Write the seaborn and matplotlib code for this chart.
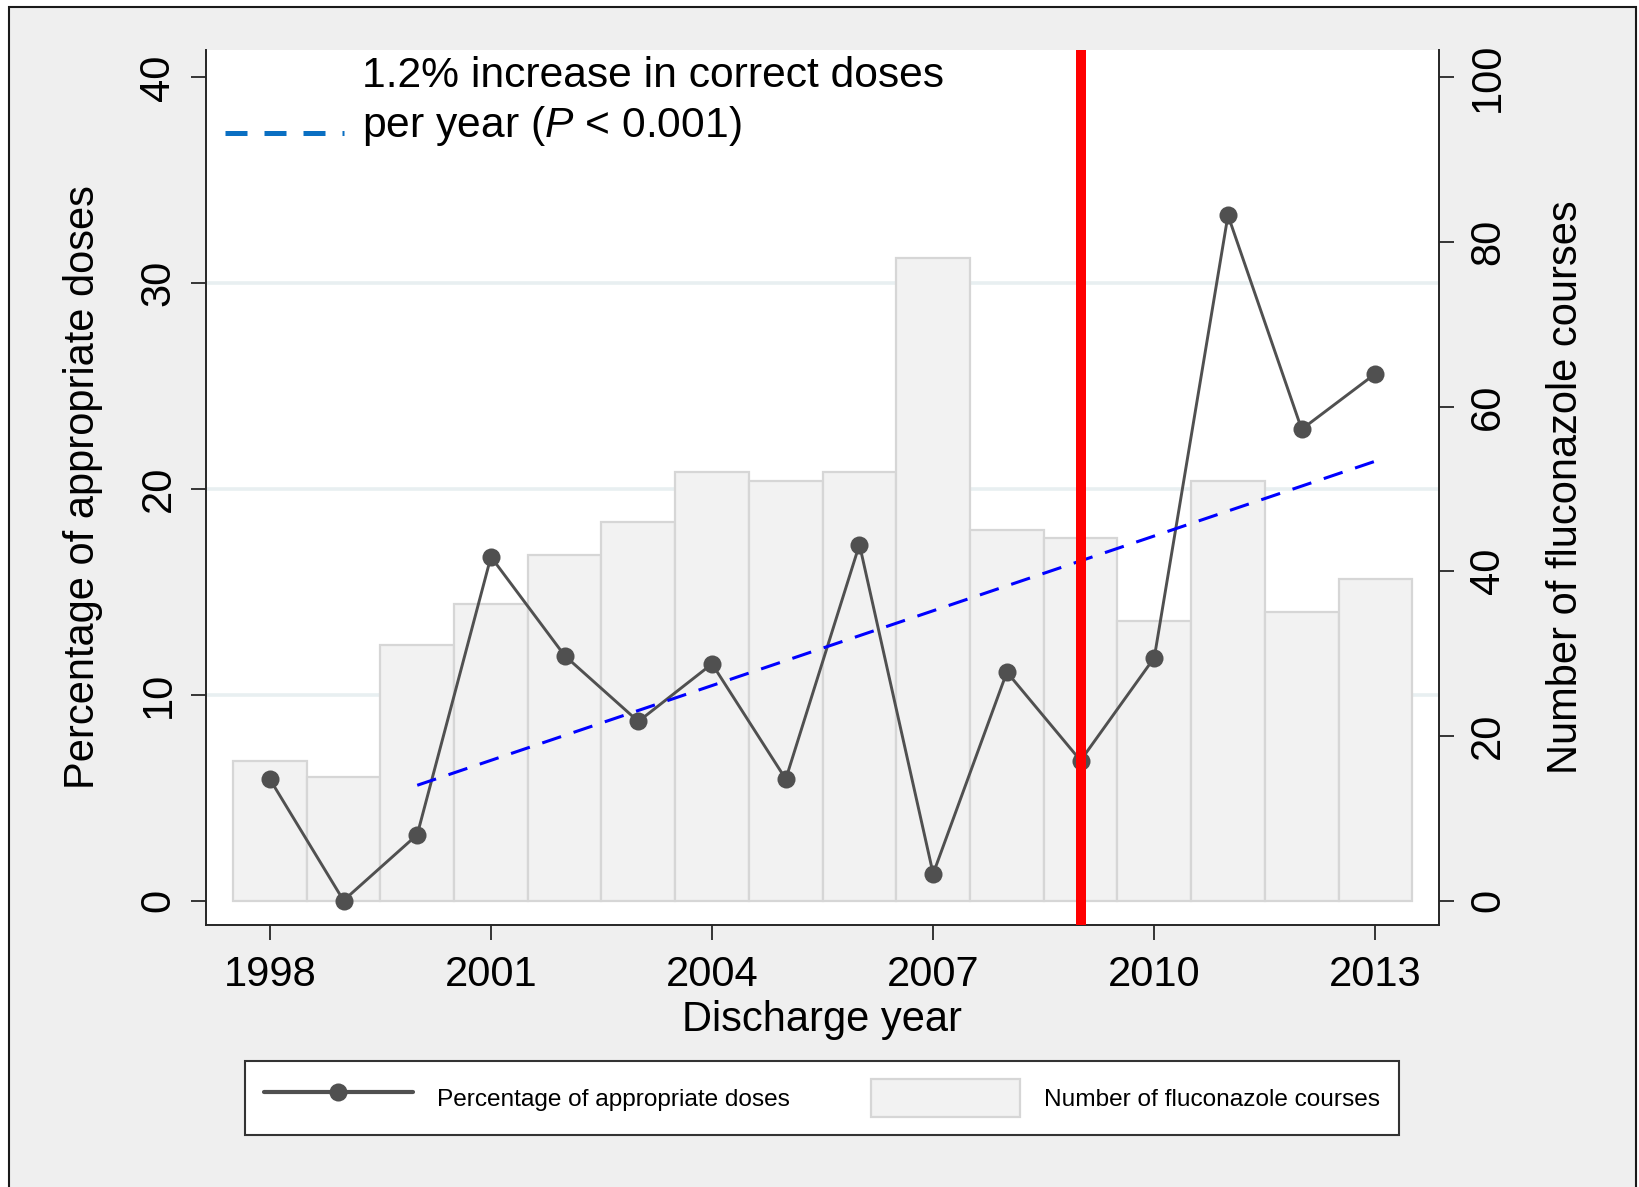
import matplotlib
matplotlib.use("Agg")
import matplotlib.pyplot as plt
from matplotlib.lines import Line2D
from matplotlib.patches import Patch, Rectangle
from matplotlib.ticker import FixedLocator
import pandas as pd
import seaborn as sns

# ---- data -------------------------------------------------------------
years = [1998, 1999, 2000, 2001, 2002, 2003, 2004, 2005,
         2006, 2007, 2008, 2009, 2010, 2011, 2012, 2013]
courses = [17, 15, 31, 36, 42, 46, 52, 51, 52, 78, 45, 44, 34, 51, 35, 39]
pct_appropriate = [5.9, 0.0, 3.2, 16.7, 11.9, 8.7, 11.5, 5.9,
                   17.3, 1.3, 11.1, 6.8, 11.8, 33.3, 22.9, 25.6]
trend_years = [2000, 2013]
trend_pct = [5.6, 21.35]
guideline_year = 2009

x_ticks = [1998, 2001, 2004, 2007, 2010, 2013]
pct_ticks = [0, 10, 20, 30, 40]
count_ticks = [0, 20, 40, 60, 80, 100]

trend_text = ["1.2% increase in correct doses",
              r"per year ($\mathit{P}$ < 0.001)"]
x_label = "Discharge year"
pct_label = "Percentage of appropriate doses"
count_label = "Number of fluconazole courses"

# ---- style ------------------------------------------------------------
sns.set_style("white")
plt.rcParams["font.family"] = ["Liberation Sans", "DejaVu Sans"]
plt.rcParams["mathtext.fontset"] = "custom"
plt.rcParams["mathtext.rm"] = "Liberation Sans"
plt.rcParams["mathtext.it"] = "Liberation Sans:italic"
for key in ("text.color", "axes.labelcolor", "xtick.color", "ytick.color"):
    plt.rcParams[key] = "black"

W, H = 1640, 1187
BIG = 30
NOTE = 30.7
SMALL = 17.6
INK = "#262626"
LINE_GREY = "#505050"
BAR_FILL = "#f2f2f2"
BAR_EDGE = "#d6d6d6"

fig = plt.figure(figsize=(W / 100, H / 100), dpi=100, facecolor="white")
fig.add_artist(Rectangle((9 / W, -0.02), (1636 - 9) / W, 1 - 7 / H + 0.02,
                         transform=fig.transFigure, facecolor="#efefef",
                         edgecolor="#1a1a1a", linewidth=1.5, zorder=-5))

left, right, top, bottom = 206, 1439, 50, 925
ax = fig.add_axes([left / W, (H - bottom) / H, (right - left) / W, (bottom - top) / H])
ax2 = ax.twinx()

pct_lim = (-1.19, 41.33)
scale = count_ticks[-1] / pct_ticks[-1]
ax.set_xlim(1997.134, 2013.863)
ax.set_ylim(*pct_lim)
ax2.set_ylim(pct_lim[0] * scale, pct_lim[1] * scale)

df = pd.DataFrame({"year": years, "courses": courses, "pct": pct_appropriate})

# bars: number of courses (right axis)
sns.barplot(data=df, x="year", y="courses", native_scale=True, width=1.0,
            color=BAR_FILL, saturation=1, edgecolor=BAR_EDGE, linewidth=1.6,
            errorbar=None, ax=ax2, zorder=2)

# percentage of appropriate doses (left axis)
sns.lineplot(data=df, x="year", y="pct", ax=ax, color=LINE_GREY, linewidth=2.1,
             marker="o", markersize=13, markeredgewidth=0, zorder=3)

# linear trend
ax.plot(trend_years, trend_pct, color="#0000ff", linewidth=2.2,
        linestyle=(0, (6.5, 4.3)), dash_capstyle="butt", zorder=4)

# guideline change
ax.axvline(guideline_year, color="#ff0000", linewidth=7.2, zorder=5)

# layering: bars + grid underneath, lines on top
ax.set_zorder(ax2.get_zorder() + 1)
ax.patch.set_visible(False)
ax2.patch.set_visible(True)
ax2.patch.set_facecolor("white")

# grid at the percentage ticks, drawn behind the bars
ax2.yaxis.set_minor_locator(FixedLocator([t * scale for t in pct_ticks[:-1]]))
ax2.set_axisbelow(True)
ax2.grid(which="minor", axis="y", color="#e8eff1", linewidth=2.6)
ax2.grid(which="major", visible=False)
ax.grid(False)

# ticks
ax.set_xticks(x_ticks)
ax.set_xticklabels([str(t) for t in x_ticks], fontsize=BIG)
ax.set_yticks(pct_ticks)
ax.set_yticklabels([str(t) for t in pct_ticks], fontsize=BIG, rotation=90, va="center")
ax2.set_yticks(count_ticks)
ax2.set_yticklabels([str(t) for t in count_ticks], fontsize=BIG, rotation=90, va="center")
ax.tick_params(axis="x", direction="out", length=10.8, width=1.3, color=INK, pad=11, bottom=True)
ax.tick_params(axis="y", direction="out", length=10.8, width=1.3, color=INK, pad=9, left=True)
ax2.tick_params(axis="y", which="major", direction="out", length=10.8, width=1.3, color=INK, pad=10, right=True)
ax2.tick_params(axis="y", which="minor", length=0)

for name, sp in ax.spines.items():
    sp.set_visible(name in ("left", "bottom"))
    sp.set_color(INK)
    sp.set_linewidth(1.4)
for name, sp in ax2.spines.items():
    sp.set_visible(name == "right")
    sp.set_color(INK)
    sp.set_linewidth(1.4)

# axis titles
ax.set_xlabel(x_label, fontsize=BIG)
ax.xaxis.set_label_coords(0.5, -0.0857)
ax.set_ylabel(pct_label, fontsize=BIG)
ax.yaxis.set_label_coords(-0.0835, 0.5)
ax2.set_ylabel(count_label, fontsize=BIG, rotation=90)
ax2.yaxis.set_label_coords(1.0868, 0.5)
ax2.set_xlabel("")

# trend key and note in the upper-left corner
ax.plot([0.0154, 0.1119], [0.9055, 0.9055], transform=ax.transAxes,
        color="#0a6fc2", linewidth=3.6, linestyle=(0, (4.4, 3.4)),
        dash_capstyle="butt", clip_on=False, zorder=6)
ax.text(0.1265, 0.9577, trend_text[0], transform=ax.transAxes,
        fontsize=NOTE, va="baseline", ha="left", zorder=6)
ax.text(0.1265, 0.9006, trend_text[1], transform=ax.transAxes,
        fontsize=NOTE, va="baseline", ha="left", zorder=6)

# legend below the plot
handles = [
    Line2D([], [], color=LINE_GREY, linewidth=3, marker="o", markersize=13,
           markeredgewidth=0),
    Patch(facecolor=BAR_FILL, edgecolor=BAR_EDGE, linewidth=1.6),
]
leg = fig.legend(handles, [pct_label, count_label], loc="center",
                 bbox_to_anchor=(822 / W, 1 - 1098 / H), ncol=2,
                 fontsize=SMALL, handlelength=6.1, handleheight=2.0,
                 handletextpad=1.0, columnspacing=3.3, borderpad=0.75,
                 frameon=True, fancybox=False, framealpha=1,
                 edgecolor="#333333", facecolor="white", numpoints=1)
leg.get_frame().set_linewidth(1.5)

fig.savefig("out.png", dpi=100, facecolor=fig.get_facecolor())
